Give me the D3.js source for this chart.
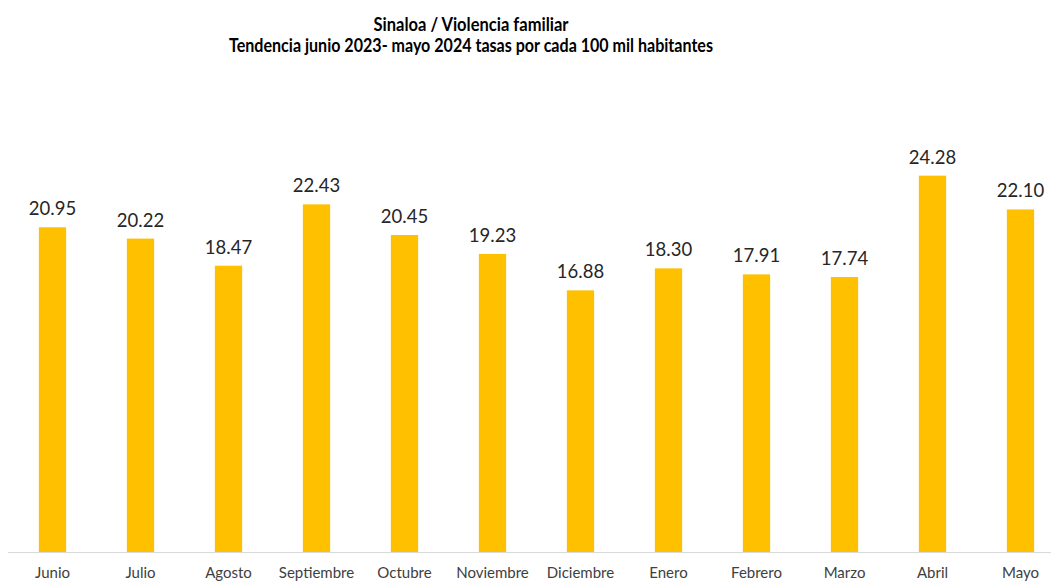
<!DOCTYPE html>
<html>
<head>
<meta charset="utf-8">
<script src="https://cdn.jsdelivr.net/npm/d3@7"></script>
<style>
    body { margin: 0; background: #fff; }
    text { font-family: Lato, "Open Sans", sans-serif; }
</style>
</head>
<body>
<svg id="chart" width="1051" height="582"></svg>
<script>
    var months = ["Junio", "Julio", "Agosto", "Septiembre", "Octubre", "Noviembre",
                  "Diciembre", "Enero", "Febrero", "Marzo", "Abril", "Mayo"];
    var rates = [20.95, 20.22, 18.47, 22.43, 20.45, 19.23, 16.88, 18.30, 17.91, 17.74, 24.28, 22.10];
    var titleLines = ["Sinaloa / Violencia familiar",
                      "Tendencia junio 2023- mayo 2024 tasas por cada 100 mil habitantes"];
    var titleWidths = [195, 484];   // widths measured on the original

    var svg = d3.select("#chart");
    var baseline = 552;

    var x = d3.scaleBand()
        .domain(months)
        .range([8.5, 1064.5])   // last band runs past the right edge, like the original
        .paddingInner(0.69)
        .paddingOuter(0.345);

    var y = d3.scaleLinear()
        .domain([0, 30])
        .range([baseline, 87]);

    // title
    svg.selectAll(".title")
        .data(titleLines)
        .enter()
        .append("text")
        .classed("title", true)
        .attr("x", 471)
        .attr("y", function(d, i){ return 31 + i * 20.5; })
        .attr("text-anchor", "middle")
        .attr("textLength", function(d, i){ return titleWidths[i]; })
        .attr("lengthAdjust", "spacingAndGlyphs")
        .style("font-weight", "bold")
        .style("font-size", "18.5px")
        .style("fill", "#000")
        .text(function(d){ return d; });

    // bars
    svg.selectAll(".bar")
        .data(rates)
        .enter()
        .append("rect")
        .classed("bar", true)
        .attr("x", function(d, i){ return x(months[i]); })
        .attr("y", function(d){ return y(d); })
        .attr("width", x.bandwidth())
        .attr("height", function(d){ return baseline - y(d); })
        .style("fill", "#FFC000");

    // value labels
    svg.selectAll(".bar-label")
        .data(rates)
        .enter()
        .append("text")
        .classed("bar-label", true)
        .attr("x", function(d, i){ return x(months[i]) + x.bandwidth() / 2; })
        .attr("y", function(d){ return y(d) - 12; })
        .attr("text-anchor", "middle")
        .style("font-size", "18.5px")
        .style("fill", "#262626")
        .text(function(d){ return d.toFixed(2); });

    // x axis
    var xAxis = d3.axisBottom(x).tickSize(0).tickPadding(15);
    var gx = svg.append("g")
        .attr("transform", "translate(0," + baseline + ")")
        .call(xAxis);
    gx.select(".domain").remove();
    gx.append("line")
        .attr("x1", 8).attr("x2", 1051)
        .attr("y1", 0.5).attr("y2", 0.5)
        .style("stroke", "#D9D9D9")
        .style("stroke-width", 1);
    gx.selectAll("text")
        .style("font-family", "Lato, 'Open Sans', sans-serif")
        .style("font-size", "15px")
        .style("fill", "#404040");
</script>
</body>
</html>
